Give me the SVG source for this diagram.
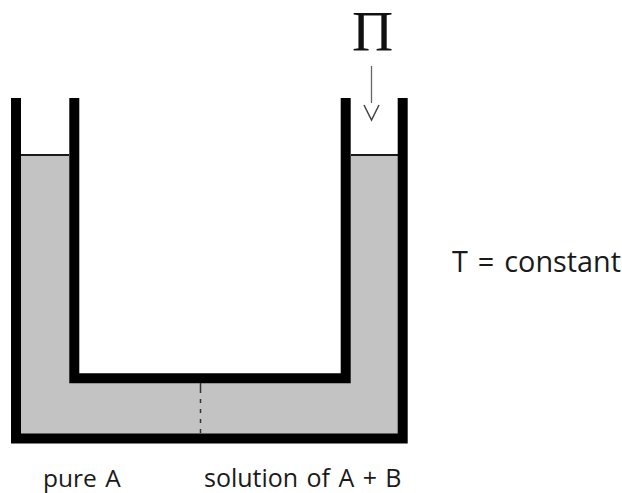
<svg xmlns="http://www.w3.org/2000/svg" width="622" height="493" viewBox="0 0 622 493">
<style>
.t{font-family:"Open Sans","Noto Sans",sans-serif;font-size:25px;fill:#1a1a1a}
.wall{fill:none;stroke:#000;stroke-width:10;stroke-linejoin:miter}
.ln{fill:none;stroke:#666;stroke-width:1.300}
</style>
<rect width="622" height="493" fill="#fff"/>
<g id="liquid">
<path d="M16 155H74V378H346V155H403V439H16Z" fill="#c3c3c3"/>
<path d="M21 155H69M351 155H398" stroke="#1a1a1a" stroke-width="2" fill="none"/>
</g>
<g id="vessel">
<path class="wall" d="M16 98V438.500H402.700V98"/>
<path class="wall" d="M74.300 98V378.300H345.700V98"/>
</g>
<g id="connectors">
<path d="M200.500 383V433" stroke="#333" stroke-width="1.500" stroke-dasharray="10 6 4 6 4 6 4 6" fill="none"/>
<path class="ln" d="M371.500 66V103"/>
<path d="M364 105L371.500 120L379 105" fill="none" stroke="#444" stroke-width="1.500"/>
</g>
<g id="labels">
<text x="372.500" y="50.500" text-anchor="middle" style="font-family:'Liberation Serif',serif;font-size:57px;fill:#111">Π</text>
<text class="t" x="452" y="272" style="font-size:28.800px;word-spacing:2.500px">T = constant</text>
<text class="t" x="43" y="487" style="font-size:24.500px;word-spacing:2px">pure A</text>
<text class="t" x="204" y="487" style="font-size:25px;word-spacing:1.900px">solution of A + B</text>
</g>
</svg>
